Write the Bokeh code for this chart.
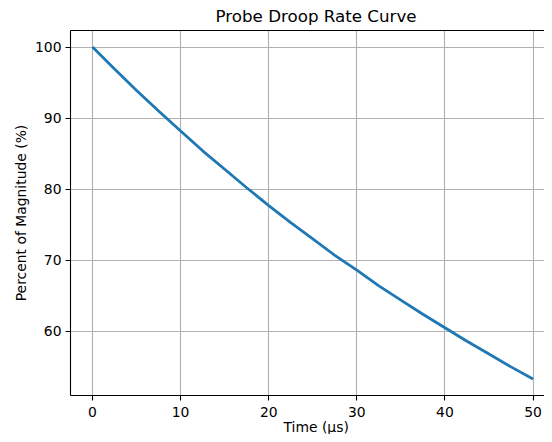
from bokeh.plotting import figure
from bokeh.models import Range1d, FixedTicker, LinearAxis, Title
from bokeh.embed import file_html
from bokeh.resources import INLINE

time_us = [0, 2.5, 5, 7.5, 10, 12.5, 15, 17.5, 20, 22.5, 25, 27.5, 30, 32.5, 35,
           37.5, 40, 42.5, 45, 47.5, 50]
percent = [100.0, 96.9, 93.9, 91.0, 88.2, 85.4, 82.8, 80.2, 77.7, 75.3, 73.0,
           70.7, 68.6, 66.4, 64.4, 62.4, 60.5, 58.6, 56.8, 55.0, 53.3]
x_ticks = [0, 10, 20, 30, 40, 50]
y_ticks = [60, 70, 80, 90, 100]
title_text = "Probe Droop Rate Curve"
x_label = "Time (µs)"
y_label = "Percent of Magnitude (%)"

FONT = "DejaVu Sans"
x0, x1 = -2.5, 51.3
y0, y1 = 50.97, 102.33

p = figure(width=544, height=434, output_backend="svg", toolbar_location=None,
           x_range=Range1d(x0, x1), y_range=Range1d(y0, y1),
           x_axis_location=None, y_axis_location=None,
           min_border_left=70, min_border_right=0, min_border_top=30,
           min_border_bottom=39)
p.outline_line_color = None
p.background_fill_color = "white"
p.border_fill_color = "white"

def style_axis(ax, ticks):
    ax.ticker = FixedTicker(ticks=ticks)
    ax.minor_tick_line_color = None
    ax.major_tick_in = 0
    ax.major_tick_out = 5
    ax.major_tick_line_width = 1.1
    ax.major_tick_line_color = "black"
    ax.axis_line_width = 1.1
    ax.axis_line_color = "black"
    ax.major_label_text_font = FONT
    ax.major_label_text_font_size = "13.9px"
    ax.major_label_text_color = "black"
    ax.major_label_standoff = 4

xa = LinearAxis()
style_axis(xa, x_ticks)
xa.major_label_standoff = 6
p.add_layout(xa, "below")
ya = LinearAxis()
style_axis(ya, y_ticks)
p.add_layout(ya, "left")

top = LinearAxis(ticker=FixedTicker(ticks=[]))
top.major_label_text_font_size = "0px"
top.major_label_text_color = None
top.major_tick_line_color = None
top.minor_tick_line_color = None
top.axis_line_width = 1.1
top.axis_line_color = "black"
p.add_layout(top, "above")

p.xgrid.ticker = FixedTicker(ticks=x_ticks)
p.ygrid.ticker = FixedTicker(ticks=y_ticks)
for g in (p.xgrid, p.ygrid):
    g.grid_line_color = "#b0b0b0"
    g.grid_line_width = 1.1

p.line(time_us, percent, line_color="#1f77b4", line_width=2.8)

p.add_layout(Title(text=title_text, align="left", offset=145, text_font=FONT,
                   text_font_size="16.7px", text_font_style="normal",
                   vertical_align="top",
                   text_color="black", standoff=5), "above")
p.add_layout(Title(text=x_label, align="left", offset=213, text_font=FONT,
                   text_font_size="13.9px", text_font_style="normal",
                   text_color="black", standoff=-5), "below")
p.add_layout(Title(text=y_label, align="center", text_font=FONT,
                   text_font_size="13.9px", text_font_style="normal",
                   text_color="black", standoff=5), "left")

open("out.html", "w").write(file_html(p, INLINE))
